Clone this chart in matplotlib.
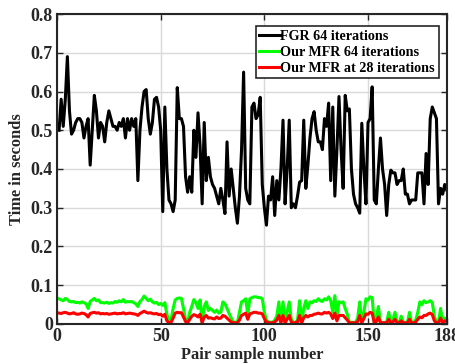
import matplotlib
matplotlib.use("Agg")
import matplotlib.pyplot as plt
import numpy as np

sample = np.arange(1, 189)

fgr_64 = [
    0.50, 0.58, 0.51, 0.58, 0.69, 0.55, 0.49, 0.50, 0.52, 0.53,
    0.53, 0.52, 0.48, 0.51, 0.53, 0.41, 0.50, 0.59, 0.55, 0.48,
    0.52, 0.51, 0.47, 0.52, 0.55, 0.53, 0.51, 0.51, 0.50, 0.52,
    0.51, 0.53, 0.48, 0.53, 0.50, 0.53, 0.51, 0.53, 0.37, 0.50,
    0.56, 0.60, 0.605, 0.53, 0.49, 0.52, 0.58, 0.585, 0.56, 0.50,
    0.29, 0.56, 0.40, 0.32, 0.31, 0.29, 0.32, 0.61, 0.53, 0.53,
    0.51, 0.38, 0.34, 0.38, 0.34, 0.50, 0.43, 0.545, 0.46, 0.31,
    0.52, 0.37, 0.43, 0.38, 0.36, 0.35, 0.33, 0.31, 0.35, 0.32,
    0.285, 0.47, 0.33, 0.40, 0.35, 0.30, 0.26, 0.33, 0.45, 0.65,
    0.35, 0.32, 0.31, 0.56, 0.57, 0.53, 0.54, 0.585, 0.36, 0.30,
    0.255, 0.33, 0.32, 0.38, 0.28, 0.37, 0.32, 0.40, 0.526, 0.31,
    0.40, 0.526, 0.30, 0.31, 0.30, 0.33, 0.366, 0.37, 0.526, 0.35,
    0.41, 0.48, 0.53, 0.548, 0.50, 0.47, 0.47, 0.45, 0.53, 0.51,
    0.57, 0.37, 0.56, 0.33, 0.45, 0.587, 0.45, 0.35, 0.59, 0.55,
    0.555, 0.40, 0.335, 0.31, 0.30, 0.286, 0.518, 0.40, 0.31, 0.52,
    0.53, 0.612, 0.32, 0.31, 0.40, 0.48, 0.40, 0.36, 0.28, 0.36,
    0.397, 0.39, 0.39, 0.36, 0.37, 0.37, 0.40, 0.335, 0.335, 0.31,
    0.32, 0.32, 0.32, 0.39, 0.39, 0.39, 0.31, 0.44, 0.36, 0.53,
    0.56, 0.545, 0.53, 0.31, 0.35, 0.335, 0.36, 0.345,
]

mfr_64 = [
    0.065, 0.062, 0.060, 0.066, 0.063, 0.058, 0.057, 0.058, 0.055, 0.056,
    0.054, 0.057, 0.055, 0.052, 0.040, 0.058, 0.062, 0.066, 0.060, 0.062,
    0.055, 0.055, 0.054, 0.056, 0.053, 0.055, 0.054, 0.058, 0.056, 0.060,
    0.057, 0.063, 0.056, 0.058, 0.057, 0.058, 0.055, 0.052, 0.045, 0.058,
    0.063, 0.072, 0.066, 0.060, 0.064, 0.057, 0.054, 0.056, 0.050, 0.053,
    0.048, 0.055, 0.025, 0.008, 0.010, 0.040, 0.062, 0.066, 0.067, 0.066,
    0.040, 0.012, 0.004, 0.030, 0.045, 0.063, 0.055, 0.040, 0.062, 0.004,
    0.045, 0.057, 0.035, 0.040, 0.035, 0.030, 0.036, 0.028, 0.030, 0.057,
    0.052, 0.040, 0.027, 0.015, 0.005, 0.004, 0.004, 0.030, 0.057, 0.060,
    0.065, 0.025, 0.065, 0.068, 0.070, 0.070, 0.068, 0.068, 0.065, 0.030,
    0.010, 0.005, 0.004, 0.004, 0.010, 0.020, 0.057, 0.004, 0.057, 0.004,
    0.030, 0.057, 0.012, 0.004, 0.004, 0.010, 0.060, 0.004, 0.040, 0.060,
    0.040, 0.057, 0.055, 0.060, 0.058, 0.065, 0.060, 0.058, 0.065, 0.062,
    0.070, 0.060, 0.030, 0.073, 0.020, 0.057, 0.055, 0.057, 0.040, 0.025,
    0.004, 0.004, 0.004, 0.004, 0.015, 0.057, 0.004, 0.030, 0.065, 0.062,
    0.070, 0.068, 0.004, 0.015, 0.045, 0.004, 0.004, 0.004, 0.004, 0.030,
    0.004, 0.010, 0.030, 0.004, 0.004, 0.020, 0.004, 0.004, 0.004, 0.030,
    0.004, 0.004, 0.010, 0.030, 0.057, 0.050, 0.060, 0.055, 0.057, 0.060,
    0.055, 0.020, 0.004, 0.004, 0.040, 0.004, 0.015, 0.012,
]

mfr_28 = [
    0.028, 0.027, 0.029, 0.030, 0.028, 0.026, 0.027, 0.029, 0.026, 0.025,
    0.026, 0.028, 0.027, 0.024, 0.018, 0.027, 0.029, 0.030, 0.028, 0.029,
    0.026, 0.027, 0.026, 0.027, 0.025, 0.026, 0.027, 0.028, 0.026, 0.027,
    0.027, 0.029, 0.026, 0.027, 0.028, 0.027, 0.026, 0.025, 0.022, 0.027,
    0.030, 0.033, 0.030, 0.028, 0.029, 0.027, 0.026, 0.027, 0.024, 0.025,
    0.020, 0.025, 0.008, 0.003, 0.004, 0.015, 0.028, 0.030, 0.029, 0.029,
    0.018, 0.006, 0.003, 0.012, 0.020, 0.024, 0.022, 0.018, 0.025, 0.003,
    0.018, 0.022, 0.015, 0.016, 0.014, 0.013, 0.018, 0.014, 0.015, 0.022,
    0.020, 0.015, 0.010, 0.005, 0.003, 0.003, 0.003, 0.010, 0.022, 0.025,
    0.028, 0.012, 0.026, 0.028, 0.030, 0.030, 0.028, 0.028, 0.026, 0.014,
    0.005, 0.003, 0.003, 0.003, 0.005, 0.010, 0.022, 0.003, 0.022, 0.003,
    0.012, 0.022, 0.005, 0.003, 0.003, 0.005, 0.022, 0.003, 0.016, 0.022,
    0.018, 0.022, 0.022, 0.025, 0.026, 0.028, 0.026, 0.026, 0.030, 0.028,
    0.030, 0.026, 0.014, 0.028, 0.008, 0.022, 0.022, 0.022, 0.016, 0.010,
    0.003, 0.003, 0.003, 0.003, 0.006, 0.022, 0.003, 0.014, 0.026, 0.025,
    0.030, 0.028, 0.003, 0.006, 0.018, 0.003, 0.003, 0.003, 0.003, 0.012,
    0.003, 0.005, 0.012, 0.003, 0.003, 0.008, 0.003, 0.003, 0.003, 0.012,
    0.003, 0.003, 0.005, 0.012, 0.018, 0.016, 0.022, 0.022, 0.026, 0.028,
    0.024, 0.008, 0.003, 0.003, 0.015, 0.003, 0.008, 0.006,
]

series_labels = ["FGR 64 iterations", "Our MFR 64 iterations", "Our MFR at 28 iterations"]
x_ticks = [0, 50, 100, 150, 188]
y_ticks = [0, 0.1, 0.2, 0.3, 0.4, 0.5, 0.6, 0.7, 0.8]
y_tick_labels = ["0", "0.1", "0.2", "0.3", "0.4", "0.5", "0.6", "0.7", "0.8"]

plt.rcParams['font.family'] = ['Liberation Serif', 'DejaVu Serif']
plt.rcParams['font.weight'] = 'bold'

fig = plt.figure(figsize=(4.55, 3.64), dpi=100)
ax = fig.add_axes([0.1253, 0.110, 0.8567, 0.8515])

ax.plot(sample, fgr_64, color='black', lw=2.2, label=series_labels[0])
ax.plot(sample, mfr_64, color='#00ff00', lw=2.2, label=series_labels[1])
ax.plot(sample, mfr_28, color='#ff0000', lw=2.2, label=series_labels[2])

ax.set_xlim(0, 188)
ax.set_ylim(0, 0.8)
ax.set_xticks(x_ticks)
ax.set_yticks(y_ticks)
ax.set_yticklabels(y_tick_labels)
ax.grid(True, color='#d9d9d9', lw=1.0)
ax.set_axisbelow(True)
ax.tick_params(direction='in', length=4, width=1.0, top=True, right=True,
               labelsize=13, color='#262626', pad=3)
for lab in ax.get_xticklabels() + ax.get_yticklabels():
    lab.set_fontweight('bold')
    lab.set_color('#262626')
for sp in ax.spines.values():
    sp.set_linewidth(1.5)
    sp.set_color('#262626')

ax.set_xlabel("Pair sample number", fontsize=11.8, fontweight='bold', color='#262626', labelpad=1)
ax.set_ylabel("Time in seconds", fontsize=11.8, fontweight='bold', color='#262626')
ax.yaxis.set_label_coords(-0.082, 0.5)

leg = ax.legend(loc='upper right', bbox_to_anchor=(0.99, 0.975),
                prop={'weight': 'bold', 'size': 10.2}, frameon=True, fancybox=False,
                handlelength=1.45, handletextpad=0.05, borderpad=0.25, labelspacing=0.22,
                borderaxespad=0.3)
leg.get_frame().set_edgecolor('#262626')
leg.get_frame().set_linewidth(1.2)
leg.get_frame().set_alpha(1.0)

fig.savefig("out.png", dpi=100)
